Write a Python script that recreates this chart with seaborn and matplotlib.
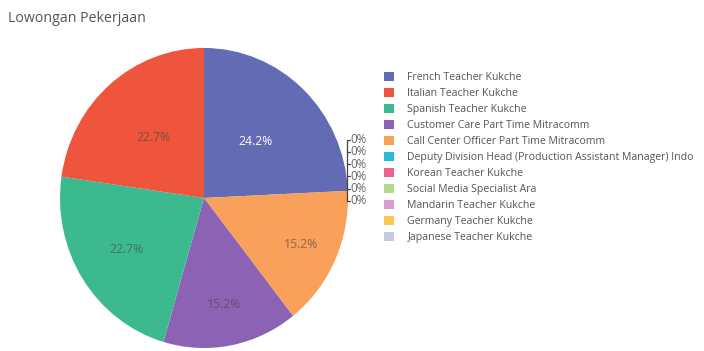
import numpy as np
import matplotlib
matplotlib.use("Agg")
import matplotlib.pyplot as plt
import seaborn as sns

sns.set_theme(style="white")
plt.rcParams["font.family"] = ["Open Sans", "DejaVu Sans"]

# Job vacancy counts per position
positions = [
    "French Teacher Kukche",
    "Italian Teacher Kukche",
    "Spanish Teacher Kukche",
    "Customer Care Part Time Mitracomm",
    "Call Center Officer Part Time Mitracomm",
    "Deputy Division Head (Production Assistant Manager) Indo",
    "Korean Teacher Kukche",
    "Social Media Specialist Ara",
    "Mandarin Teacher Kukche",
    "Germany Teacher Kukche",
    "Japanese Teacher Kukche",
]
counts = [16, 15, 15, 10, 10, 0, 0, 0, 0, 0, 0]
colors = [
    "#636bb4", "#ee553c", "#3cb98e", "#8c63b4", "#f9a05b",
    "#2bb9d9", "#ea628d", "#b3d98b", "#d99bd0", "#f9c94f", "#c8c8e0",
]
# clockwise drawing order starting at 12 o'clock
draw_order = [0, 5, 6, 7, 8, 9, 10, 4, 3, 2, 1]
# radial position of the inside percentage labels
label_radius = {0: 0.52, 1: 0.535, 2: 0.64, 3: 0.72, 4: 0.74}

W, H = 704, 351
fig = plt.figure(figsize=(W / 100, H / 100), dpi=100)
fig.patch.set_facecolor("white")

cx, cy, rx, ry = 204, 198, 144, 150
ax = fig.add_axes([(cx - rx) / W, (H - cy - ry) / H, 2 * rx / W, 2 * ry / H])

vals = [counts[i] for i in draw_order]
cols = [colors[i] for i in draw_order]
wedges, _ = ax.pie(vals, colors=cols, startangle=90, counterclock=False,
                   radius=1, wedgeprops=dict(linewidth=0))
ax.set_aspect("auto")
ax.set_xlim(-1, 1)
ax.set_ylim(-1, 1)
ax.axis("off")

total = sum(counts)
text_dark = "#444444"
for w, v, idx in zip(wedges, vals, draw_order):
    if v == 0:
        continue
    ang = np.deg2rad((w.theta1 + w.theta2) / 2)
    r = label_radius[idx]
    pct = f"{100 * v / total:.1f}%"
    col = "white" if idx == 0 else text_dark
    alpha = 1.0 if idx == 0 else 0.6
    ax.text(r * np.cos(ang), r * np.sin(ang), pct, ha="center", va="center",
            fontsize=8.8, color=col, alpha=alpha)

# outside labels for the empty slices, stacked with leader lines
zero_w = [w for w, v in zip(wedges, vals) if v == 0]
line_x = 0.993
label_ys = [0.39 - i * 0.082 for i in range(len(zero_w))]
ax.plot([line_x, line_x], [label_ys[-1], label_ys[0]], color=text_dark,
        lw=0.9, clip_on=False)
for ly in label_ys:
    ax.plot([line_x, line_x + 0.02], [ly, ly], color=text_dark, lw=0.9,
            clip_on=False)
    ax.text(line_x + 0.025, ly, "0%", ha="left", va="center", fontsize=8.3,
            color="#666666", clip_on=False)

# legend in the original category order
handles = [wedges[draw_order.index(i)] for i in range(len(positions))]
leg = fig.legend(handles, positions, loc="upper left",
                 bbox_to_anchor=(380 / W, 1 - 68 / H), frameon=False,
                 fontsize=7.6, handlelength=0.95, handleheight=0.95,
                 handletextpad=1.25, labelspacing=0.45, borderaxespad=0)
for t in leg.get_texts():
    t.set_color("#555555")

fig.text(8 / W, 1 - 18 / H, "Lowongan Pekerjaan", ha="left", va="center",
         fontsize=10.2, color="#555555")

fig.savefig("out.png", dpi=100, facecolor="white")
